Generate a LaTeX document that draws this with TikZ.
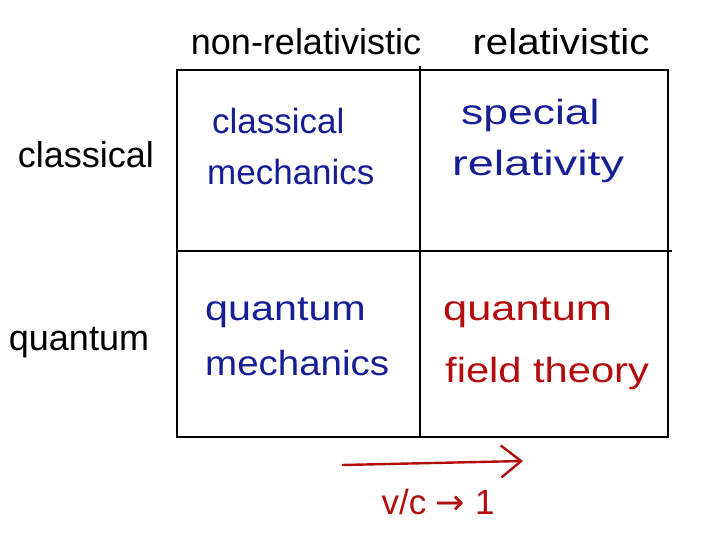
\documentclass[tikz,border=0pt]{standalone}
\usepackage{fontspec}
\setmainfont{Liberation Sans}
\newfontfamily\symfont{DejaVu Sans}
\usetikzlibrary{arrows.meta}
\definecolor{inkblue}{RGB}{22,30,150}
\definecolor{inkred}{RGB}{180,12,12}
\tikzset{
  grid/.style={line width=1.6pt, black},
  head/.style={font=\fontsize{36}{38}\selectfont, text=black, inner sep=0pt, anchor=base},
  cell/.style={font=\fontsize{35}{38}\selectfont, anchor=base west, inner sep=0pt},
  redarrow/.style={inkred, line width=2.4pt, -{Straight Barb[length=20pt,width=32pt,line width=2.4pt]}}
}
\begin{document}
\begin{tikzpicture}[x=1pt,y=-1pt]
\useasboundingbox (0,0) rectangle (701,538);
% grid
\coordinate (TL) at (177,70);
\coordinate (BR) at (668,437);
\coordinate (VT) at (420,66);
\coordinate (VB) at (420,437);
\coordinate (HL) at (177,251);
\coordinate (HR) at (672,251);
\draw[grid] (TL) rectangle (BR);
\draw[grid] (VT) -- (VB);
\draw[grid] (HL) -- (HR);
% headings
\node[head] (nonrel) at (306,54) {non-relativistic};
\node[head] (rel) at (561,54) {\scalebox{1.12}[1]{relativistic}};
\node[head] (cl) at (86,167) {classical};
\node[head] (qu) at (79,350) {quantum};
% cells
\node[cell, text=inkblue] (cm1) at (212,133) {classical};
\node[cell, text=inkblue] (cm2) at (207,184) {mechanics};
\node[cell, text=inkblue] (sr1) at (461,124) {\scalebox{1.27}[1]{special}};
\node[cell, text=inkblue] (sr2) at (452,175) {\scalebox{1.34}[1]{relativity}};
\node[cell, text=inkblue] (qm1) at (205,320) {\scalebox{1.18}[1]{quantum}};
\node[cell, text=inkblue] (qm2) at (205,375) {\scalebox{1.1}[1]{mechanics}};
\node[cell, text=inkred] (qft1) at (443,320) {\scalebox{1.24}[1]{quantum}};
\node[cell, text=inkred] (qft2) at (445,382) {\scalebox{1.19}[1]{field theory}};
% arrow
\coordinate (A1) at (342,465);
\coordinate (A2) at (523,461);
\draw[redarrow] (A1) -- (A2);
\node[font=\fontsize{35}{36}\selectfont, text=inkred, inner sep=0pt, anchor=base] (vc) at (438,514) {v/c {\symfont →} 1};
\end{tikzpicture}
\end{document}
